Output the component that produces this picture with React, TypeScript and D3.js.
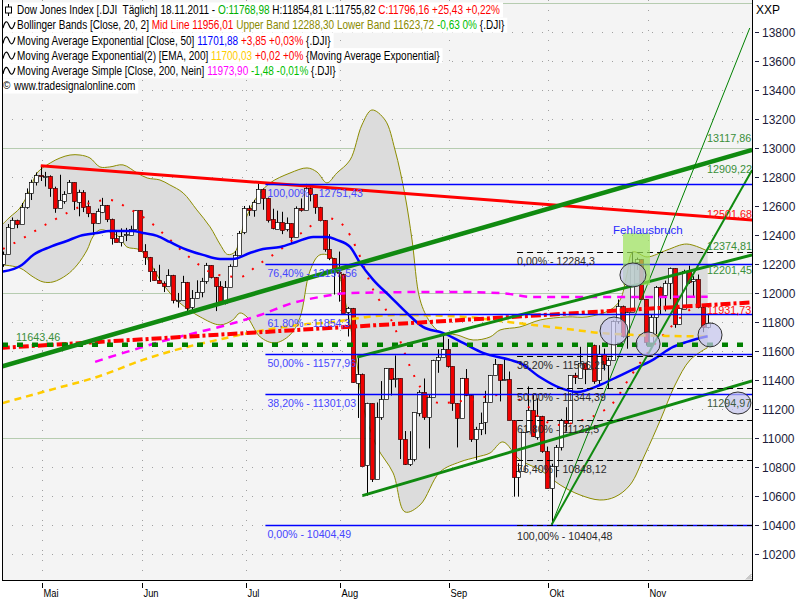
import React, { useEffect, useRef } from "react";
import * as d3 from "d3";

type P = [number, number];

// ---------- price data (Apr 19 2011 .. Nov 18 2011, daily) ----------
const opens = [12200,12267,12453,12505,12480,12595,12690,12763,12811,12807,12807,12724,12584,12638,12684,12761,12630,12696,12596,12548,12479,12561,12606,12512,12381,12356,12394,12403,12441,12570,12290,12248,12151,12090,12071,12049,12125,11952,11953,12076,11897,11962,12004,12081,12191,12110,12050,11934,12043,12188,12262,12414,12582,12570,12626,12719,12657,12506,12447,12492,12437,12480,12385,12587,12572,12725,12681,12593,12502,12303,12241,12143,12133,11867,11897,11384,11445,10810,11240,10720,11144,11270,11483,11406,11411,10991,10818,10855,11177,11321,11150,11285,11540,11560,11614,11494,11241,11140,11415,11296,10993,11062,11106,11247,11433,11510,11401,11409,11125,10734,10772,11044,11191,11011,11154,10913,10655,10809,10940,11124,11103,11433,11417,11519,11479,11644,11397,11577,11505,11541,11809,11913,11706,11869,12209,12231,11955,11658,11836,12044,11983,12069,12170,11781,11894,12153,12079,12096,11906,11769];
const highs = [12285,12475,12520,12505,12620,12720,12780,12830,12876,12834,12810,12732,12814,12701,12778,12762,12711,12708,12637,12548,12581,12655,12606,12512,12422,12445,12448,12463,12570,12570,12336,12248,12168,12194,12080,12163,12125,12000,12118,12076,12020,12087,12104,12207,12191,12110,12081,12082,12197,12289,12427,12599,12603,12641,12753,12719,12657,12580,12567,12559,12520,12480,12596,12651,12751,12750,12681,12593,12502,12405,12241,12285,12133,11904,11897,11567,11445,11244,11240,11246,11393,11483,11483,11569,11411,11049,11048,11177,11330,11411,11301,11540,11612,11716,11683,11494,11241,11415,11476,11296,11078,11176,11326,11433,11545,11510,11548,11459,11125,10827,11044,11356,11306,11275,11154,10942,10824,10953,11133,11213,11433,11450,11629,11519,11652,11644,11640,11617,11555,11811,11955,11913,11891,12284,12243,12231,11955,11850,12048,12044,12085,12175,12170,11900,12160,12188,12115,12127,11906,11855];
const lows = [12180,12267,12450,12446,12479,12580,12640,12740,12771,12733,12662,12552,12584,12614,12684,12571,12528,12557,12522,12399,12475,12550,12488,12333,12355,12320,12357,12401,12441,12288,12193,12076,12085,12065,12006,12049,11928,11899,11953,11862,11867,11962,11970,12063,12100,11875,11918,11921,12043,12188,12262,12405,12531,12525,12626,12573,12485,12438,12438,12405,12424,12342,12385,12560,12572,12631,12545,12493,12284,12226,11989,11940,11863,11700,11383,11139,10809,10604,10698,10720,11126,11270,11294,11349,10856,10815,10808,10840,11150,11126,10929,11285,11450,11560,11486,11188,10936,11140,11289,10974,10850,11021,11027,11247,11433,11253,11399,11124,10597,10597,10772,11044,11008,10989,10899,10655,10404,10730,10915,11046,11103,11373,11417,11372,11479,11374,11372,11466,11341,11541,11788,11691,11616,11869,12158,11955,11637,11658,11715,11854,11873,11957,11760,11781,11894,12063,11967,11894,11730,11756];
const closes = [12266,12453,12505,12479,12595,12690,12763,12811,12807,12807,12724,12584,12638,12684,12761,12630,12696,12596,12548,12479,12561,12606,12512,12381,12356,12394,12403,12441,12570,12290,12248,12151,12090,12071,12049,12125,11952,11953,12076,11897,11962,12004,12081,12191,12110,12050,11934,12043,12188,12262,12414,12582,12570,12626,12719,12657,12506,12447,12492,12437,12480,12385,12587,12572,12725,12681,12593,12502,12303,12241,12143,12133,11867,11897,11384,11445,10810,11240,10720,11144,11270,11483,11406,11411,10991,10818,10855,11177,11321,11150,11285,11540,11560,11614,11494,11241,11140,11415,11296,10993,11062,11106,11247,11433,11510,11401,11409,11125,10734,10772,11044,11191,11011,11154,10913,10655,10809,10940,11124,11103,11433,11417,11519,11479,11644,11397,11577,11505,11541,11809,11913,11706,11869,12209,12231,11955,11658,11836,12044,11983,12069,12170,11781,11894,12153,12079,12096,11906,11771,11796];

const monthLabels = ["Mai", "Jun", "Jul", "Aug", "Sep", "Okt", "Nov"];
const monthStart = [8, 29, 51, 71, 94, 115, 136];
const yTicks = d3.range(10200, 13801, 200);

// ---------- indicator readings [bar index, value] ----------
const upperBand: P[] = [[0,12475],[1.5,12523],[3.6,12585],[5.7,12709],[7.2,12826],[10,12895],[12.1,12930],[14.2,12950],[16.3,12950],[18.4,12930],[20.5,12868],[22.6,12868],[25.4,12882],[28.4,12826],[30.5,12792],[33.2,12778],[35.3,12744],[38.1,12689],[41,12572],[43.8,12455],[46,12330],[47.5,12265],[49,12280],[50,12360],[51,12480],[52,12560],[53.7,12661],[56.5,12758],[60.7,12826],[64.3,12861],[66.4,12833],[68.5,12758],[70.6,12826],[73.4,12916],[75.9,13157],[78,13260],[80.8,13191],[82.9,12985],[85,12675],[86.5,12365],[88.2,11952],[90.3,11800],[92.4,11731],[96,11711],[99.4,11676],[103,11697],[105.1,11745],[109.3,11766],[113.6,11814],[119.3,11835],[123.5,11835],[128.4,11883],[130.5,11952],[131.9,12124],[133.2,12282],[136.2,12248],[140.4,12296],[144.6,12337],[149,12288]];
const lowerBand: P[] = [[0,12193],[3.6,12172],[6.4,12110],[8.5,12076],[10.6,12076],[13.5,12124],[15.7,12193],[17.8,12296],[19,12386],[20.5,12434],[22.6,12420],[24.8,12379],[26.2,12317],[29,12296],[31.1,12207],[33.2,12090],[35.3,12000],[37.4,11931],[41.7,11835],[45.9,11780],[48.6,11814],[50.1,11862],[51.6,11835],[54.4,11697],[57.5,11656],[60.7,11711],[62.8,11830],[64.9,12150],[67,12262],[69.8,12241],[72.3,11952],[74.9,11504],[76.1,11229],[79.1,10939],[82.5,10760],[85,10492],[88.2,10540],[92.4,10767],[96.6,10836],[100.2,10870],[103,10898],[105.7,10974],[109.3,10850],[113.6,10781],[117.8,10678],[122,10609],[126.2,10574],[129.4,10595],[132.6,10678],[135.7,10884],[139,11125],[142.1,11366],[145.3,11539],[149,11624]];
const midBand: P[] = [[0,12303],[4,12372],[8.9,12468],[13.6,12551],[18.4,12620],[22.6,12640],[26.4,12585],[31.1,12489],[34.9,12379],[39.6,12241],[45.5,12124],[50.1,12110],[53.9,12193],[58.6,12296],[63.4,12420],[68.5,12517],[71.9,12468],[74.9,12296],[78.3,12021],[81.8,11835],[83.9,11676],[86.1,11490],[88.2,11353],[92.4,11242],[98.7,11263],[105.1,11298],[109.3,11263],[114.2,11125],[117.1,11091],[122.6,11125],[126.2,11174],[129,11242],[132.6,11421],[136.8,11607],[140.4,11738],[144.6,11869],[149,11956]];
const ema50: P[] = [[0,12147],[4,12193],[6.4,12262],[10,12317],[13.5,12358],[16.3,12393],[19.9,12413],[22.6,12427],[27.5,12427],[29.6,12413],[32.6,12393],[35.3,12351],[37.4,12317],[39,12296],[42.3,12262],[45.9,12234],[48.6,12234],[52.2,12275],[55,12303],[58.6,12317],[62,12351],[65.6,12386],[68.5,12386],[70.6,12365],[73.4,12317],[75.5,12207],[78.3,12090],[82,11972],[85.4,11862],[88.8,11766],[93,11725],[97.3,11656],[101.5,11587],[107.2,11539],[109.3,11518],[113.5,11421],[117.8,11346],[121.4,11318],[126.2,11366],[129.8,11421],[133,11470],[137.4,11539],[141.7,11628],[144.6,11663],[149,11702]];
const ema200: P[] = [[0,11242],[10,11332],[20.5,11428],[29.6,11539],[38.9,11628],[45.3,11676],[52.2,11725],[62.8,11780],[69.8,11800],[77,11835],[83.9,11848],[98.1,11835],[105.1,11807],[112.1,11780],[119.3,11752],[126.2,11725],[133.2,11711],[140.4,11704],[149,11700]];
const sma200: P[] = [[19.5,11525],[22,11552],[27.5,11607],[33.2,11663],[38.9,11711],[47.4,11780],[54.4,11848],[61.3,11931],[67,11972],[73.4,12000],[94.5,12007],[105.1,12000],[112.1,11972],[126.2,11972],[149,11974]];

// ---------- drawn trend lines [bar index, value] ----------
const redTrend: P[] = [[8,12876],[158.4,12502]];
const greenThick: P[] = [[-0.65,11490],[158.4,12985]];
const greenMid: P[] = [[74.9,11559],[158.4,12262]];
const greenLow: P[] = [[76,10604],[158.4,11394]];
const steepThin: P[] = [[116,10404],[157.9,13825]];
const steepThick: P[] = [[116,10404],[158.4,12847]];
const redDashDot: P[] = [[-0.65,11621],[158.4,11935]];
const greenLevel = 11643.46;

// ---------- Fibonacci ----------
const fibBlueLevels = [12751.43, 12197.56, 11854.3, 11577.96, 11301.03, 10404.49];
const fibBlueLabels = ["100,00% - 12751,43", "76,40% - 12197,56", "61,80% - 11854,3", "50,00% - 11577,96", "38,20% - 11301,03", "0,00% - 10404,49"];
const fibBlackLevels = [12284.3, 11566.21, 11344.39, 11122.5, 10848.12, 10404.48];
const fibBlackLabels = ["0,00% - 12284,3", "38,20% - 11566,21", "50,00% - 11344,39", "61,80% - 11122,5", "76,40% - 10848,12", "100,00% - 10404,48"];

// ---------- value labels [text, value, colour] ----------
const rightLabels: [string, number, string][] = [
  ["13117,86", 13067, "#3a8f3a"],
  ["12909,22", 12854, "#3a8f3a"],
  ["12501,68", 12544, "#ff1010"],
  ["12374,81", 12324, "#3a8f3a"],
  ["12201,45", 12158, "#3a8f3a"],
  ["11931,73", 11883, "#ff1010"],
  ["11294,97", 11242, "#3d5a3d"],
];

// ellipses [bar index, value, rx, ry]
const circles: [number, number, number, number][] = [
  [129.2, 11738, 14, 14],
  [133.2, 12124, 13, 12],
  [136.4, 11649, 12, 12],
  [149.5, 11711, 12, 12],
  [155.4, 11242, 13, 11],
];

const headerRows: [string, string][][] = [
  [["Dow Jones Index [.DJI  Täglich] 18.11.2011 - ", "#000"], ["O:11768,98", "#00b000"], [" H:11854,81 L:11755,82 ", "#000"], ["C:11796,16 +25,43 +0,22%", "#ff0000"]],
  [["Bollinger Bands [Close, 20, 2] ", "#000"], ["Mid Line 11956,01", "#ff0000"], [" Upper Band 12288,30 Lower Band 11623,72", "#8a8a00"], [" -0,63 0%", "#00c000"], [" {.DJI}", "#000"]],
  [["Moving Average Exponential [Close, 50] ", "#000"], ["11701,88", "#0000ff"], [" +3,85 +0,03%", "#ff0000"], [" {.DJI}", "#000"]],
  [["Moving Average Exponential(2) [EMA, 200] ", "#000"], ["11700,03", "#ffcc00"], [" +0,02 +0%", "#ff0000"], [" {Moving Average Exponential}", "#000"]],
  [["Moving Average Simple [Close, 200, Nein] ", "#000"], ["11973,90", "#ff00ff"], [" -1,48 -0,01%", "#00c000"], [" {.DJI}", "#000"]],
  [["www.tradesignalonline.com", "#000"]],
];

export default function App() {
  const ref = useRef<SVGSVGElement>(null);

  useEffect(() => {
    const svg = d3.select(ref.current as SVGSVGElement);
    svg.selectAll("*").remove();
    const font = "'Liberation Sans', Arial, sans-serif";

    const L = 2, R = 752, T = 0, B = 580;
    const x = d3.scaleLinear().domain([0, 149]).range([2.9, 707.67]);
    const y = d3.scaleLinear().domain([10023, 13997]).range([580, 3]);

    svg.append("rect").attr("width", 800).attr("height", 600).attr("fill", "#fff");
    svg.append("rect").attr("x", L).attr("y", T).attr("width", R - L).attr("height", B - T).attr("fill", "#f4f4f4");

    const defs = svg.append("defs");
    defs.append("clipPath").attr("id", "pc").append("rect").attr("x", L + 1).attr("y", T).attr("width", R - L - 1).attr("height", B - T);
    const g = svg.append("g").attr("clip-path", "url(#pc)");

    // grid
    const gridVals = d3.range(10200, 14001, 200);
    gridVals.forEach((v) => {
      const yy = Math.round(y(v)) + 0.5;
      const major = v % 1000 === 0;
      g.append("line").attr("x1", L).attr("x2", R).attr("y1", yy).attr("y2", yy)
        .attr("stroke", major ? "#b6ccb0" : "#a0a0a0")
        .attr("stroke-width", major ? 1.2 : 1)
        .attr("stroke-dasharray", major ? null : "1,9");
    });
    monthStart.forEach((i) => {
      const xx = Math.round(x(i) + 1.5) + 0.5;
      g.append("line").attr("x1", xx).attr("x2", xx).attr("y1", T).attr("y2", B)
        .attr("stroke", "#a0a0a0").attr("stroke-dasharray", "1,9");
    });

    const lineGen = (curve: d3.CurveFactory = d3.curveMonotoneX) =>
      d3.line<P>().x((d) => x(d[0])).y((d) => y(d[1])).curve(curve);

    // Bollinger fill
    const cr = d3.curveCatmullRom.alpha(0.5);
    const up = lineGen(cr)(upperBand) || "";
    const lo = lineGen(cr)([...lowerBand].reverse()) || "";
    g.append("path").attr("d", up + "L" + lo.slice(1) + "Z").attr("fill", "#dcdcdc");
    g.append("path").attr("d", up).attr("fill", "none").attr("stroke", "#8c8c00").attr("stroke-width", 1);
    g.append("path").attr("d", lineGen(cr)(lowerBand) || "").attr("fill", "none").attr("stroke", "#8c8c00").attr("stroke-width", 1);

    // candles
    const idx = d3.range(closes.length);
    const cg = g.append("g");
    idx.forEach((i) => {
      const cx = Math.round(x(i)) + 0.5;
      cg.append("line").attr("x1", cx).attr("x2", cx).attr("y1", y(highs[i])).attr("y2", y(lows[i]))
        .attr("stroke", "#000").attr("stroke-width", 1);
      const top = Math.round(Math.min(y(opens[i]), y(closes[i]))) + 0.5;
      const h = Math.max(1, Math.round(Math.abs(y(opens[i]) - y(closes[i]))));
      cg.append("rect").attr("x", cx - 2).attr("y", top).attr("width", 4).attr("height", h)
        .attr("fill", closes[i] >= opens[i] ? "#ffffff" : "#f00000")
        .attr("stroke", closes[i] >= opens[i] ? "#000" : "#3a0000").attr("stroke-width", 0.7);
    });

    // Bollinger mid line (red dots)
    g.append("path").attr("d", lineGen()(midBand) || "").attr("fill", "none")
      .attr("stroke", "#ff0000").attr("stroke-width", 2).attr("stroke-dasharray", "2,10");

    // moving averages
    g.append("path").attr("d", lineGen()(sma200) || "").attr("fill", "none")
      .attr("stroke", "#ff00ff").attr("stroke-width", 2.5).attr("stroke-dasharray", "8,6");
    g.append("path").attr("d", lineGen()(ema200) || "").attr("fill", "none")
      .attr("stroke", "#ffcc00").attr("stroke-width", 2.5).attr("stroke-dasharray", "7,5");
    g.append("path").attr("d", lineGen()(ema50) || "").attr("fill", "none")
      .attr("stroke", "#0000ff").attr("stroke-width", 2.5);

    // trend lines
    const lin = lineGen(d3.curveLinear);
    g.append("path").attr("d", lin(redDashDot) || "").attr("stroke", "#ff0000").attr("stroke-width", 4)
      .attr("stroke-dasharray", "10,3,3,3").attr("fill", "none");
    g.append("line").attr("x1", L).attr("x2", R).attr("y1", y(greenLevel)).attr("y2", y(greenLevel))
      .attr("stroke", "#008000").attr("stroke-width", 4.5).attr("stroke-dasharray", "6,9");
    g.append("path").attr("d", lin(redTrend) || "").attr("stroke", "#ff0000").attr("stroke-width", 3).attr("fill", "none");
    g.append("path").attr("d", lin(greenThick) || "").attr("stroke", "#108a10").attr("stroke-width", 4.5).attr("fill", "none");
    g.append("path").attr("d", lin(greenMid) || "").attr("stroke", "#108a10").attr("stroke-width", 3).attr("fill", "none");
    g.append("path").attr("d", lin(greenLow) || "").attr("stroke", "#108a10").attr("stroke-width", 3).attr("fill", "none");
    g.append("path").attr("d", lin(steepThin) || "").attr("stroke", "#008000").attr("stroke-width", 1).attr("fill", "none");
    g.append("path").attr("d", lin(steepThick) || "").attr("stroke", "#108a10").attr("stroke-width", 2).attr("fill", "none");

    // Fibonacci (blue)
    const fbX = x(55.5);
    fibBlueLevels.forEach((v, k) => {
      const yy = Math.round(y(v)) + 0.5;
      g.append("line").attr("x1", fbX).attr("x2", R).attr("y1", yy).attr("y2", yy)
        .attr("stroke", "#0000ff").attr("stroke-width", 1.4);
      g.append("text").attr("x", fbX + 2).attr("y", yy + 12).text(fibBlueLabels[k])
        .attr("fill", "#4646ff").attr("font-size", 10.6).attr("font-family", font);
    });
    // Fibonacci (black dashed)
    const fkX = x(108.7);
    fibBlackLevels.forEach((v, k) => {
      const yy = Math.round(y(v)) + 0.5;
      g.append("line").attr("x1", fkX).attr("x2", R).attr("y1", yy).attr("y2", yy)
        .attr("stroke", "#000").attr("stroke-width", 1).attr("stroke-dasharray", "6,4");
      g.append("text").attr("x", fkX).attr("y", yy + (k === 5 ? 14 : 12)).text(fibBlackLabels[k])
        .attr("fill", "#2a2a2a").attr("font-size", 10.6).attr("font-family", font);
    });

    // annotations
    g.append("rect").attr("x", x(131.1)).attr("y", y(12413)).attr("width", x(136.8) - x(131.1))
      .attr("height", y(12055) - y(12413)).attr("fill", "#9be35a").attr("opacity", 0.7);
    circles.forEach(([i, v, rx, ry]) => {
      g.append("ellipse").attr("cx", x(i)).attr("cy", y(v)).attr("rx", rx).attr("ry", ry)
        .attr("fill", "#c4c4ee").attr("fill-opacity", 0.7).attr("stroke", "#303030").attr("stroke-width", 1);
    });
    g.append("text").attr("x", x(129)).attr("y", y(12406)).text("Fehlausbruch")
      .attr("fill", "#2a2aff").attr("font-size", 11.5).attr("font-family", font);

    rightLabels.forEach(([t, v, c]) => {
      g.append("text").attr("x", 707).attr("y", y(v) + 4).text(t).attr("fill", c)
        .attr("font-size", 10.8).attr("font-family", font);
    });
    g.append("text").attr("x", 16).attr("y", y(11697) + 4).text("11643,46").attr("fill", "#3a8f3a")
      .attr("font-size", 10.8).attr("font-family", font);

    // borders
    svg.append("line").attr("x1", L + 0.5).attr("x2", L + 0.5).attr("y1", T).attr("y2", B).attr("stroke", "#000");
    svg.append("line").attr("x1", L).attr("x2", R).attr("y1", B + 0.5).attr("y2", B + 0.5).attr("stroke", "#000");
    svg.append("line").attr("x1", R + 0.5).attr("x2", R + 0.5).attr("y1", T).attr("y2", B + 1).attr("stroke", "#000");
    [0, 1, 2].forEach((k) => {
      svg.append("line").attr("x1", R - 2 - k * 2).attr("y1", B - 0.5).attr("x2", R - 0.5).attr("y2", B - 2 - k * 2)
        .attr("stroke", "#888").attr("stroke-width", 0.8);
    });

    // right axis
    yTicks.forEach((v) => {
      const yy = Math.round(y(v)) + 0.5;
      svg.append("line").attr("x1", 755).attr("x2", 759).attr("y1", yy).attr("y2", yy).attr("stroke", "#202040");
      svg.append("text").attr("x", 762).attr("y", yy + 4.5).text(String(v)).attr("fill", "#1c1c3a")
        .attr("font-size", 12).attr("font-family", font);
    });
    svg.append("text").attr("x", 756).attr("y", 14).text("XXP").attr("fill", "#000")
      .attr("font-size", 12).attr("font-family", font);

    // bottom axis
    monthStart.forEach((i, k) => {
      const xx = Math.round(x(i) + 1.5) + 0.5;
      svg.append("line").attr("x1", xx).attr("x2", xx).attr("y1", 583).attr("y2", 588).attr("stroke", "#000");
      svg.append("text").attr("x", xx + 1).attr("y", 597).text(monthLabels[k]).attr("fill", "#000")
        .attr("font-size", 11).attr("font-family", font)
        .attr("transform", `translate(${xx + 1},0) scale(0.85,1) translate(${-(xx + 1)},0)`);
    });

    // header legend
    const hg = svg.append("g");
    const sx = 0.835;
    headerRows.forEach((row, r) => {
      const cy = 10 + r * 15.2;
      const bg = hg.append("rect").attr("x", L + 1).attr("y", cy - 7.5).attr("height", 15).attr("fill", "#fff");
      const startX = r === 5 ? 14 : 17;
      const t = hg.append("text").attr("x", startX).attr("y", cy + 4.3).attr("font-size", 12)
        .attr("font-family", font).style("white-space", "pre")
        .attr("transform", `translate(${startX},0) scale(${sx},1) translate(${-startX},0)`);
      row.forEach(([s, c]) => t.append("tspan").text(s).attr("fill", c));
      const w = (t.node() as SVGTextElement).getComputedTextLength() * sx;
      bg.attr("width", startX + w + 3 - (L + 1));
      if (r === 0) {
        hg.append("line").attr("x1", 8.5).attr("x2", 8.5).attr("y1", cy - 6).attr("y2", cy + 6).attr("stroke", "#000");
        hg.append("rect").attr("x", 5.5).attr("y", cy - 3).attr("width", 6).attr("height", 6).attr("fill", "#fff").attr("stroke", "#000");
      } else if (r < 5) {
        hg.append("path").attr("d", `M3,${cy + 3} C5,${cy - 5} 7,${cy - 5} 9,${cy} S13,${cy + 5} 15,${cy - 3}`)
          .attr("fill", "none").attr("stroke", "#000").attr("stroke-width", 1.2);
      } else {
        hg.append("text").attr("x", 3).attr("y", cy + 3).text("©").attr("font-size", 10).attr("font-family", font);
      }
    });
  }, []);

  return (
    <svg ref={ref} width={800} height={600}
      style={{ position: "fixed", left: 0, top: 0, display: "block" }} />
  );
}
